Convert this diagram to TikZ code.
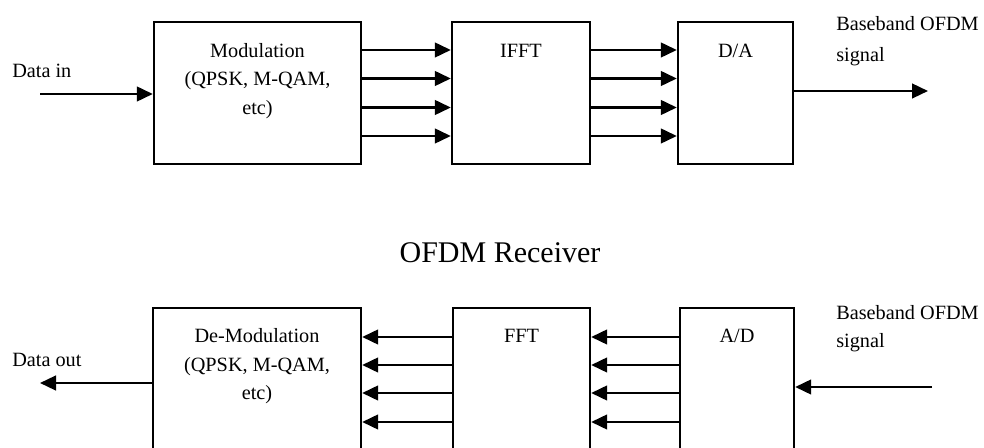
\documentclass[tikz,border=0pt]{standalone}
\usepackage{fontspec}
\setmainfont{Liberation Serif}
\usetikzlibrary{arrows.meta,calc}

\tikzset{
  blk/.style={draw,rectangle,line width=1.8pt,minimum height=106.5pt},
  txt/.style={font=\fontsize{15.2}{21.5}\selectfont,align=center,inner sep=0pt},
  sig/.style={line width=1.8pt,-{Triangle[length=12pt,width=11pt]}}
}

\begin{document}
\begin{tikzpicture}[x=0.75pt,y=-0.75pt]
  \useasboundingbox (0,0) rectangle (984,448);
  \clip (0,0) rectangle (984,448);

  % transmitter
  \node[blk,minimum width=155.25pt] (mod) at (257.5,93) {};
  \node[blk,minimum width=103.5pt] (ifft) at (521,93) {};
  \node[blk,minimum width=86.25pt] (da) at (735.5,93) {};

  % multi-line texts sit on the baseline of their last line
  \node[txt,anchor=base] (modtxt) at (257.5,114.5) {Modulation\\(QPSK, M-QAM,\\etc)};
  \node[txt,anchor=base] (iffttxt) at (521,58) {IFFT};
  \node[txt,anchor=base] (datxt) at (735.5,58) {D/A};
  \node[txt,anchor=base west,align=left] (datain) at (12,78) {Data in};
  \node[txt,anchor=base west,align=left] (txout) at (836,62) {Baseband OFDM\\[2pt]signal};

  \coordinate (din) at (40,94);
  \coordinate (dsig) at (928,91);
  \draw[sig] (din) -- (mod.west |- din);
  \draw[sig] (da.east |- dsig) -- (dsig);
  \foreach \dy in {-43,-14.5,14.5,43} {
    \draw[sig] ($(mod.east)+(0,\dy)$) -- ($(ifft.west)+(0,\dy)$);
    \draw[sig] ($(ifft.east)+(0,\dy)$) -- ($(da.west)+(0,\dy)$);
  }

  \node[font=\fontsize{22.5}{27}\selectfont,anchor=base,inner sep=0pt] (rxtitle) at (500,263) {OFDM Receiver};

  % receiver
  \node[blk,minimum width=156pt,minimum height=107.25pt] (demod) at (257,379.5) {};
  \node[blk,minimum width=102.75pt,minimum height=107.25pt] (fft) at (521.5,379.5) {};
  \node[blk,minimum width=85.5pt,minimum height=107.25pt] (ad) at (737,379.5) {};

  \node[txt,anchor=base] (demodtxt) at (257,400) {De-Modulation\\(QPSK, M-QAM,\\etc)};
  \node[txt,anchor=base] (ffttxt) at (521.5,343) {FFT};
  \node[txt,anchor=base] (adtxt) at (737,343) {A/D};
  \node[txt,anchor=base west,align=left] (dataout) at (12,367) {Data out};
  \node[txt,anchor=base west,align=left] (rxin) at (836,348) {Baseband OFDM\\signal};

  \coordinate (dend) at (40,383);
  \coordinate (rsig) at (932,387);
  \draw[sig] (demod.west |- dend) -- (dend);
  \draw[sig] (rsig) -- (ad.east |- rsig);
  \foreach \dy in {-42.5,-14.5,13.5,42.5} {
    \draw[sig] ($(fft.west)+(0,\dy)$) -- ($(demod.east)+(0,\dy)$);
    \draw[sig] ($(ad.west)+(0,\dy)$) -- ($(fft.east)+(0,\dy)$);
  }
\end{tikzpicture}
\end{document}
